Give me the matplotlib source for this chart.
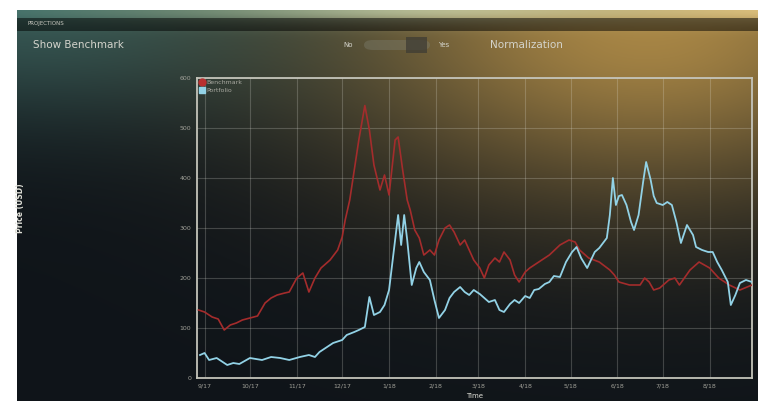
import matplotlib
matplotlib.use("Agg")
import matplotlib.pyplot as plt
import matplotlib.patches as mpatches
import numpy as np

plt.rcParams['font.family'] = ['Liberation Sans Narrow', 'DejaVu Sans']

# days since 2017-09-01 and values
bench_days = [-4, 0, 5, 9, 13, 17, 21, 25, 30, 35, 40, 44, 48, 53, 56, 61, 65, 69,
              73, 77, 83, 88, 91, 93, 96, 99, 102, 106, 109, 112, 116, 119, 122, 126,
              128, 131, 134, 136, 139, 142, 145, 149, 152, 155, 159, 162, 165, 169,
              172, 175, 178, 182, 185, 188, 192, 195, 198, 202, 205, 208, 212, 215,
              221, 228, 235, 241, 245, 248, 254, 261, 268, 271, 274, 281, 288, 291,
              294, 297, 301, 307, 311, 314, 321, 327, 334, 340, 347, 354, 362]
bench_vals = [136, 132, 122, 118, 96, 106, 110, 116, 120, 124, 150, 160, 166, 170, 172,
              200, 210, 172, 200, 220, 236, 256, 282, 316, 356, 416, 476, 545, 496,
              426, 376, 406, 366, 476, 482, 416, 356, 336, 296, 280, 246, 256, 246,
              276, 300, 306, 292, 266, 276, 256, 236, 220, 200, 226, 240, 232, 252,
              236, 206, 192, 212, 220, 232, 246, 266, 276, 272, 256, 240, 232, 216,
              206, 192, 186, 186, 200, 192, 176, 180, 196, 200, 186, 216, 232, 220,
              200, 186, 176, 186]

port_days = [-3, 0, 3, 8, 15, 19, 23, 30, 38, 44, 50, 56, 63, 69, 73, 76, 81, 85, 91,
             94, 99, 102, 106, 109, 112, 116, 119, 122, 126, 128, 130, 132, 134, 137,
             140, 142, 145, 149, 152, 155, 159, 162, 165, 169, 172, 175, 178, 182,
             185, 188, 192, 195, 198, 202, 205, 208, 212, 215, 218, 221, 225, 228,
             231, 235, 239, 243, 246, 249, 253, 258, 261, 266, 268, 270, 272, 274,
             276, 279, 282, 284, 287, 290, 292, 295, 297, 299, 303, 306, 309, 312,
             315, 319, 323, 325, 329, 333, 336, 339, 342, 346, 348, 351, 354, 358, 362]
port_vals = [46, 50, 36, 40, 26, 30, 28, 40, 36, 42, 40, 36, 42, 46, 42, 52, 62, 70,
             76, 86, 92, 96, 102, 162, 126, 132, 146, 176, 276, 326, 266, 326, 276,
             186, 220, 232, 212, 196, 156, 120, 136, 160, 172, 182, 172, 166, 176,
             168, 160, 152, 156, 136, 132, 148, 156, 150, 164, 160, 176, 178, 188,
             192, 204, 202, 232, 252, 262, 240, 220, 252, 260, 280, 326, 400, 346,
             364, 366, 346, 312, 296, 326, 392, 432, 396, 364, 350, 346, 352, 346,
             312, 270, 306, 286, 262, 256, 252, 252, 232, 216, 192, 146, 166, 190,
             196, 192]

month_ticks = ['2017-09-01', '2017-10-01', '2017-11-01', '2017-12-01', '2018-01-01',
               '2018-02-01', '2018-03-01', '2018-04-01', '2018-05-01', '2018-06-01',
               '2018-07-01', '2018-08-01']
month_labels = ['9/17', '10/17', '11/17', '12/17', '1/18', '2/18', '3/18', '4/18',
                '5/18', '6/18', '7/18', '8/18']
y_ticks = [0, 100, 200, 300, 400, 500, 600]

W, H = 765, 408
fig = plt.figure(figsize=(W / 100, H / 100), dpi=100)
fig.patch.set_facecolor('white')

# background of the dashboard screenshot
x0, x1, y0, y1 = 17, 758, 10, 401
gx, gy = np.meshgrid(np.linspace(x0, x1, 300), np.linspace(y0, y1, 200))
base = np.array([0.06, 0.08, 0.10])
teal = np.array([0.20, 0.33, 0.32])
gold = np.array([0.76, 0.60, 0.30])
w_teal = np.exp(-((gx - 20) / 320) ** 2 - ((gy - 10) / 110) ** 2)
w_gold = np.exp(-((gx - 650) / 320) ** 2 - ((gy - 20) / 180) ** 2)
img = base + w_teal[..., None] * (teal - base)
img = img + w_gold[..., None] * (gold - img) * 0.85
# bright band along the top edge
t = (gx - x0) / (x1 - x0)
top_col = (np.array([0.28, 0.45, 0.42])[None, None, :] * (1 - t[..., None])
           + np.array([0.85, 0.74, 0.48])[None, None, :] * t[..., None])
top_col = top_col + 0.12 * np.exp(-((gx - 420) / 160) ** 2)[..., None]
w_top = np.exp(-((gy - 10) / 14) ** 2)
img = img + w_top[..., None] * (top_col - img)
img = np.clip(img, 0, 1)
bg = fig.add_axes([x0 / W, 1 - y1 / H, (x1 - x0) / W, (y1 - y0) / H])
bg.imshow(img, aspect='auto', extent=[x0, x1, y1, y0], interpolation='bilinear')
bg.axis('off')

# header strip and controls
fig.patches.append(mpatches.Rectangle((x0 / W, 1 - 31 / H), (x1 - x0) / W, 13 / H,
                                      transform=fig.transFigure, color='black',
                                      alpha=0.5, lw=0))
fig.text(28 / W, 1 - 24 / H, 'PROJECTIONS', fontsize=4, color='#c8c8c0', va='center')
fig.text(33 / W, 1 - 45 / H, 'Show Benchmark', fontsize=7.5, color='#d4d4cc', va='center')
fig.text(343 / W, 1 - 45 / H, 'No', fontsize=5, color='#d4d4cc', va='center')
fig.text(438 / W, 1 - 45 / H, 'Yes', fontsize=5, color='#d4d4cc', va='center')
fig.text(490 / W, 1 - 45 / H, 'Normalization', fontsize=7.5, color='#d4d4cc', va='center')
fig.patches.append(mpatches.FancyBboxPatch((364 / W, 1 - 50 / H), 66 / W, 10 / H,
                                           boxstyle='round,pad=0,rounding_size=0.012',
                                           transform=fig.transFigure, color='#7a7a6a',
                                           alpha=0.45, lw=0))
fig.patches.append(mpatches.Rectangle((406 / W, 1 - 53 / H), 21 / W, 16 / H,
                                      transform=fig.transFigure, color='#3e3c34',
                                      alpha=0.75, lw=0))

# chart
ax = fig.add_axes([197 / W, 1 - 378 / H, (752 - 197) / W, (378 - 78) / H])
ax.patch.set_alpha(0)
bd = np.datetime64('2017-09-01') + np.array(bench_days).astype('timedelta64[D]')
pd_ = np.datetime64('2017-09-01') + np.array(port_days).astype('timedelta64[D]')
ax.plot(bd, bench_vals, color='#a42c2c', lw=1.2, zorder=3)
ax.plot(pd_, port_vals, color='#92d2e6', lw=1.3, zorder=4)
ax.set_xlim(np.datetime64('2017-08-27'), np.datetime64('2018-08-29'))
ax.set_ylim(0, 600)
ax.set_xticks([np.datetime64(t) for t in month_ticks])
ax.set_xticklabels(month_labels)
ax.set_yticks(y_ticks)
ax.grid(True, color='#e8e8e0', alpha=0.22, lw=0.8)
ax.tick_params(colors='#a0a098', labelsize=4.5, length=0, pad=4)
for s in ax.spines.values():
    s.set_color('#c4c4ba')
    s.set_linewidth(1.3)
ax.set_xlabel('Time', fontsize=5, color='#e0e0d8', labelpad=3)
fig.text(20 / W, 1 - 208 / H, 'Price (USD)', fontsize=5.5, color='#e0e0d8',
         rotation=90, va='center', ha='center', fontweight='bold')

h1 = plt.Line2D([], [], color='#b83030', marker='o', ls='', markersize=5)
h2 = plt.Line2D([], [], color='#92d2e6', marker='s', ls='', markersize=5)
ax.legend([h1, h2], ['Benchmark', 'Portfolio'], loc='upper left', frameon=False,
          fontsize=4.5, labelcolor='#a8a8a0', handletextpad=0.2, labelspacing=0.4,
          borderaxespad=0.2, borderpad=0.1, handlelength=1)

fig.savefig('out.png', dpi=100, facecolor=fig.get_facecolor())
